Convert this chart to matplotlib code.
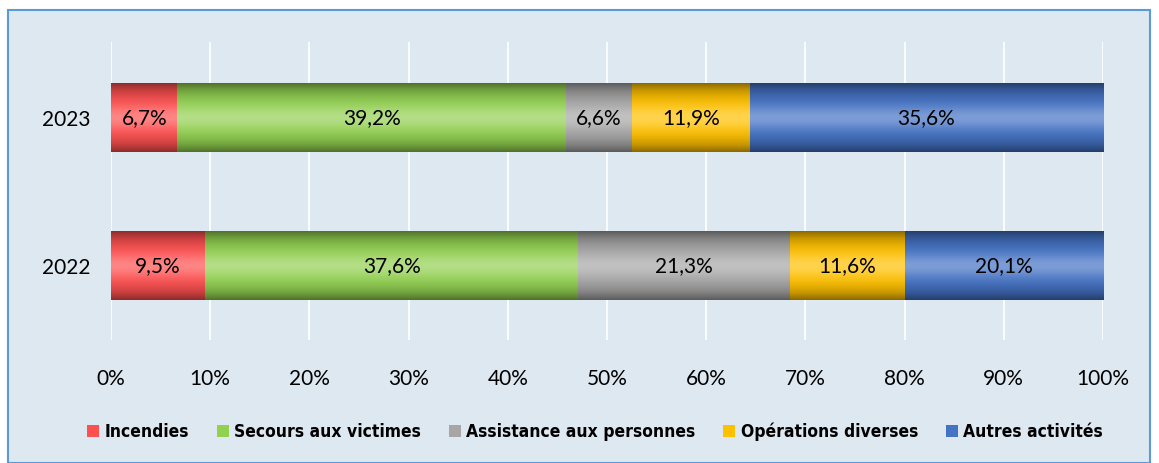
import numpy as np
import matplotlib.pyplot as plt
import matplotlib.colors as mcolors
from matplotlib.patches import Rectangle

# Data
years = ['2022', '2023']
categories = ['Incendies', 'Secours aux victimes', 'Assistance aux personnes',
              'Opérations diverses', 'Autres activités']
values_2022 = [9.5, 37.6, 21.3, 11.6, 20.1]
values_2023 = [6.7, 39.2, 6.6, 11.9, 35.6]
labels_2022 = ['9,5%', '37,6%', '21,3%', '11,6%', '20,1%']
labels_2023 = ['6,7%', '39,2%', '6,6%', '11,9%', '35,6%']
colors = ['#ff5050', '#92d050', '#a6a6a6', '#ffc000', '#4472c4']

W, H = 1159, 463
fig = plt.figure(figsize=(W / 100, H / 100), dpi=100)
fig.patch.set_facecolor('white')
# chart area background + border
fig.patches.append(Rectangle((8 / W, 0), (1150 - 8) / W, (H - 10) / H,
                             transform=fig.transFigure, facecolor='#dee8f1',
                             edgecolor='#5b9bd5', linewidth=1.5, zorder=-5))

ax = fig.add_axes([111 / W, 1 - 340 / H, (1103 - 111) / W, (340 - 42) / H])
ax.set_facecolor('none')

data = np.array([values_2022, values_2023])
texts = [labels_2022, labels_2023]
ypos = np.arange(len(years))
bar_h = 0.465


def shade(color):
    # vertical cylinder-like gradient: darker edges, light band in the middle
    rgb = np.array(mcolors.to_rgb(color))
    t = np.linspace(-1, 1, 80)
    dark = 1 - 0.45 * np.abs(t) ** 3
    cols = rgb[None, :] * dark[:, None]
    hl = 0.3 * np.exp(-(t / 0.35) ** 2)
    cols = cols + (1 - cols) * hl[:, None]
    return np.clip(cols, 0, 1)[:, None, :]


left = np.zeros(len(years))
for j, cat in enumerate(categories):
    bars = ax.barh(ypos, data[:, j], left=left, height=bar_h, color=colors[j],
                   label=cat, zorder=2)
    for i, b in enumerate(bars):
        x0, y0 = b.get_x(), b.get_y()
        ax.imshow(shade(colors[j]), extent=(x0, x0 + b.get_width(), y0, y0 + b.get_height()),
                  aspect='auto', zorder=3, interpolation='bilinear')
        ax.text(x0 + b.get_width() / 2, ypos[i], texts[i][j], ha='center', va='center',
                fontsize=15, family='Lato', color='black', zorder=4)
    left += data[:, j]

ax.set_xlim(0, 100)
ax.set_ylim(-0.5, 1.51)
ax.set_xticks(np.arange(0, 101, 10))
ax.set_xticklabels([f'{v}%' for v in range(0, 101, 10)], family='Lato', fontsize=15)
ax.set_yticks(ypos)
ax.set_yticklabels(years, family='Lato', fontsize=15)
ax.tick_params(axis='x', length=0, pad=21)
ax.tick_params(axis='y', length=0, pad=15)
ax.grid(axis='x', color='white', linewidth=1.2, zorder=1)
ax.set_axisbelow(True)
for s in ax.spines.values():
    s.set_visible(False)

leg = fig.legend(loc='center', bbox_to_anchor=(595 / W, 1 - 432 / H), ncol=5, frameon=False,
                 handlelength=0.7, handleheight=0.7, handletextpad=0.3, columnspacing=1.6,
                 prop={'family': 'DejaVu Sans', 'stretch': 'condensed', 'weight': 'bold',
                       'size': 12.5})

fig.savefig('out.png', dpi=100, facecolor=fig.get_facecolor())
